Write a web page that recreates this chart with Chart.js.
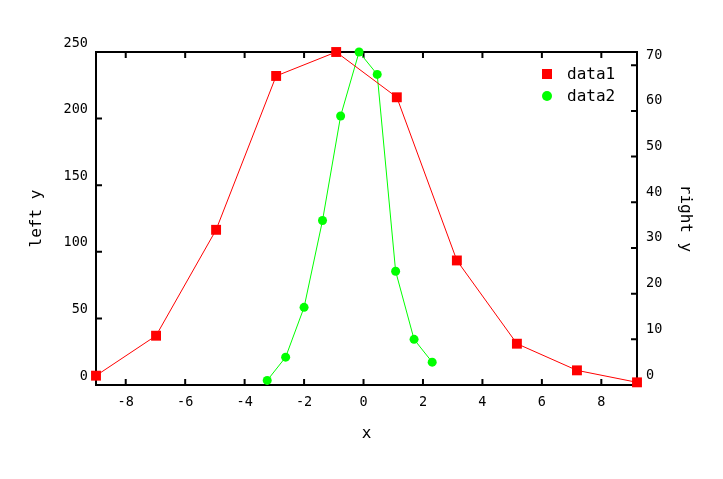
<!DOCTYPE html>
<html>
<head>
<meta charset="utf-8">
<script src="https://cdn.jsdelivr.net/npm/chart.js@4.4.1/dist/chart.umd.min.js"></script>
<style>
  body { margin: 0; background: #fff; }
  #wrap { width: 723px; height: 479px; }
</style>
</head>
<body>
<div id="wrap"><canvas id="myChart" width="723" height="479"></canvas></div>
<script>
// values
const data1X = [-9, -6.98, -4.96, -2.94, -0.92, 1.12, 3.14, 5.16, 7.18, 9.2]
const data1Y = [7, 37, 116.5, 232, 250, 216, 93.5, 31, 11, 2]
const data2X = [-3.24, -2.62, -2.0, -1.38, -0.77, -0.15, 0.46, 1.08, 1.7, 2.31]
const data2Y = [1.0, 6.1, 17.0, 36.0, 58.9, 72.9, 68.0, 24.9, 10.0, 5.0]
const seriesNames = ['data1', 'data2']
const axisTitles = { x: 'x', left: 'left y', right: 'right y' }

const monoFont = '"DejaVu Sans Mono", "Liberation Mono", monospace'

function toPoints(xs, ys) {
    return xs.map((x, i) => ({ x: x, y: ys[i] }))
}

// gnuplot style frame with inward ticks, drawn under the points
const frameTicks = {
    id: 'frameTicks',
    beforeDatasetsDraw(chart) {
        const { ctx, chartArea: a, scales } = chart
        const len = 6
        ctx.save()
        ctx.strokeStyle = '#000'
        ctx.lineWidth = 2
        ctx.strokeRect(a.left, a.top, a.right - a.left, a.bottom - a.top)
        ctx.beginPath()
        scales.x.ticks.forEach((t, i) => {
            const px = scales.x.getPixelForTick(i)
            ctx.moveTo(px, a.bottom); ctx.lineTo(px, a.bottom - len)
            ctx.moveTo(px, a.top); ctx.lineTo(px, a.top + len)
        })
        scales.y.ticks.forEach((t, i) => {
            const py = scales.y.getPixelForTick(i)
            ctx.moveTo(a.left, py); ctx.lineTo(a.left + len, py)
        })
        scales.y2.ticks.forEach((t, i) => {
            const py = scales.y2.getPixelForTick(i)
            ctx.moveTo(a.right, py); ctx.lineTo(a.right - len, py)
        })
        ctx.stroke()
        ctx.restore()
    }
}

// key inside the plot, top right
const keyBox = {
    id: 'keyBox',
    afterDraw(chart) {
        const ctx = chart.ctx
        const sets = chart.data.datasets
        ctx.save()
        ctx.font = '16px ' + monoFont
        ctx.textBaseline = 'middle'
        ctx.textAlign = 'left'
        const rows = [74, 96]
        sets.forEach((ds, i) => {
            const y = rows[i]
            ctx.fillStyle = ds.backgroundColor
            if (ds.pointStyle === 'rect') {
                ctx.fillRect(542, y - 5, 10, 10)
            } else {
                ctx.beginPath()
                ctx.arc(547, y, 5, 0, Math.PI * 2)
                ctx.fill()
            }
            ctx.fillStyle = '#000'
            ctx.fillText(ds.label, 567, y + 1)
        })
        ctx.restore()
    }
}

const tickFont = { family: monoFont, size: 13.5 }
const titleFont = { family: monoFont, size: 16 }

let ctxChart = document.getElementById('myChart').getContext('2d')
let myChart = new Chart(ctxChart, {
    type: 'scatter',
    data: {
        datasets: [{
            label: seriesNames[0],
            data: toPoints(data1X, data1Y),
            yAxisID: 'y',
            showLine: true,
            borderColor: '#ff0000',
            backgroundColor: '#ff0000',
            borderWidth: 1,
            pointStyle: 'rect',
            pointRadius: 7,
            pointHoverRadius: 7,
            pointBorderWidth: 0,
            clip: false
        }, {
            label: seriesNames[1],
            data: toPoints(data2X, data2Y),
            yAxisID: 'y2',
            showLine: true,
            borderColor: '#00ff00',
            backgroundColor: '#00ff00',
            borderWidth: 1,
            pointStyle: 'circle',
            pointRadius: 4.5,
            pointHoverRadius: 4.5,
            pointBorderWidth: 0,
            clip: false
        }]
    },
    options: {
        responsive: false,
        animation: false,
        devicePixelRatio: 1,
        layout: { padding: { top: 52, left: 0, right: 0, bottom: 0 } },
        plugins: {
            legend: { display: false },
            tooltip: { enabled: false }
        },
        scales: {
            x: {
                type: 'linear',
                position: 'bottom',
                min: -9,
                max: 9.2,
                grid: { display: false, drawTicks: false },
                border: { display: false },
                ticks: { stepSize: 2, includeBounds: false, color: '#000', font: tickFont, padding: 9, maxRotation: 0 },
                title: { display: true, text: axisTitles.x, color: '#000', font: titleFont, padding: { top: 36, bottom: 36 } },
                afterFit(scale) { scale.height = 94 }
            },
            y: {
                type: 'linear',
                position: 'left',
                min: 0,
                max: 250,
                grid: { display: false, drawTicks: false },
                border: { display: false },
                ticks: { stepSize: 50, includeBounds: false, color: '#000', font: tickFont, padding: 8, labelOffset: -9 },
                title: { display: true, text: axisTitles.left, color: '#000', font: titleFont, padding: { top: 27, bottom: 27 } },
                afterFit(scale) { scale.width = 96 }
            },
            y2: {
                type: 'linear',
                position: 'right',
                min: 0,
                max: 72.9,
                grid: { display: false, drawTicks: false },
                border: { display: false },
                ticks: { stepSize: 10, includeBounds: false, color: '#000', font: tickFont, padding: 9, labelOffset: -10 },
                title: { display: true, text: axisTitles.right, color: '#000', font: titleFont, padding: { top: 28, bottom: 28 } },
                afterFit(scale) { scale.width = 86 }
            }
        }
    },
    plugins: [frameTicks, keyBox]
})
</script>
</body>
</html>
